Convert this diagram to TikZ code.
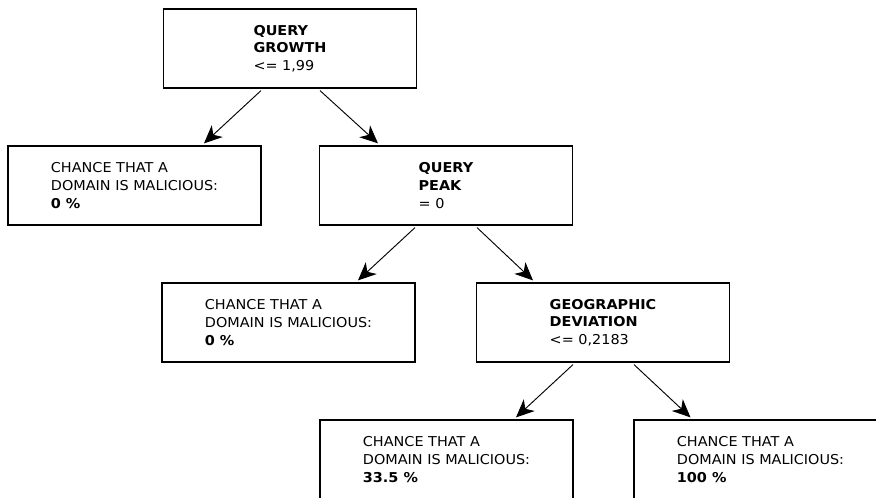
\documentclass[tikz,border=0pt]{standalone}
\usepackage{fontspec}
\setmainfont{DejaVu Sans}[FakeStretch=1.06]
\usetikzlibrary{arrows.meta,calc}

\begin{document}
\begin{tikzpicture}[x=0.75pt,y=0.75pt,yscale=-1,xscale=1,
	treebox/.style={draw,line width=0.9pt,rectangle,minimum width=189.75pt,minimum height=59.25pt,align=left,inner sep=0pt,font=\fontsize{10.2}{13.2}\selectfont},
	treearrow/.style={line width=0.7pt,-{Stealth[length=13.5pt,width=12pt,inset=4pt]}}]
				%set diagram size 876 x 498
				\useasboundingbox (0,0) rectangle (876,498);

				% Split Nodes
				\node[treebox] (growth) at (290,48.5) {\textbf{QUERY}\\\textbf{GROWTH}\\<= 1,99};
				\node[treebox] (peak) at (446,185.5) {\textbf{QUERY}\\\textbf{PEAK}\\= 0};
				\node[treebox] (geo) at (603,322.5) {\textbf{GEOGRAPHIC}\\\textbf{DEVIATION}\\<= 0,2183};

				% Leaf Nodes
				\node[treebox] (leafa) at (134.5,185.5) {CHANCE THAT A\\DOMAIN IS MALICIOUS:\\\textbf{0 \%}};
				\node[treebox] (leafb) at (288.5,322.5) {CHANCE THAT A\\DOMAIN IS MALICIOUS:\\\textbf{0 \%}};
				\node[treebox] (leafc) at (446.5,459.5) {CHANCE THAT A\\DOMAIN IS MALICIOUS:\\\textbf{33.5 \%}};
				\node[treebox] (leafd) at (760.5,459.5) {CHANCE THAT A\\DOMAIN IS MALICIOUS:\\\textbf{100 \%}};

				% Arrows
				\draw[treearrow] ($(growth.south)+(-29,2)$) -- ($(leafa.north)+(69.5,-2)$);
				\draw[treearrow] ($(growth.south)+(30,2)$) -- ($(peak.north)+(-68,-2)$);
				\draw[treearrow] ($(peak.south)+(-31,2)$) -- ($(leafb.north)+(69.5,-2)$);
				\draw[treearrow] ($(peak.south)+(31,2)$) -- ($(geo.north)+(-70,-2)$);
				\draw[treearrow] ($(geo.south)+(-30,2)$) -- ($(leafc.north)+(69.5,-2)$);
				\draw[treearrow] ($(geo.south)+(31,2)$) -- ($(leafd.north)+(-70,-2)$);

\end{tikzpicture}
\end{document}
